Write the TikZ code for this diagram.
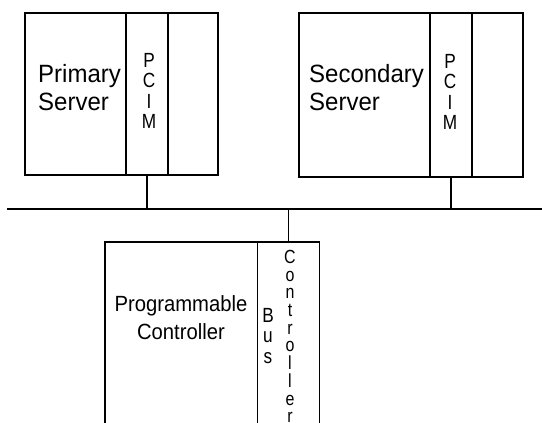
\documentclass[tikz,border=0pt]{standalone}
\usepackage{fontspec}
\setmainfont{Liberation Sans}
\newfontfamily\labfont[FakeStretch=0.96]{Liberation Sans}
\newfontfamily\pcfont[FakeStretch=0.92]{Liberation Sans}
\newfontfamily\colfont[FakeStretch=0.84]{Liberation Sans}
\begin{document}
\begin{tikzpicture}[x=1pt,y=-1pt,
  box/.style={draw=black, line width=1.3pt, rectangle, inner sep=0pt},
  lab/.style={inner sep=0pt, text=black, font=\labfont\fontsize{25}{28}\selectfont},
  pclab/.style={inner sep=0pt, text=black, font=\pcfont\fontsize{22}{28}\selectfont},
  pcimlab/.style={inner sep=0pt, text=black, align=center, anchor=north, font=\colfont\fontsize{20.5}{20.5}\selectfont},
  ctrlab/.style={inner sep=0pt, text=black, align=center, anchor=north, font=\colfont\fontsize{19}{17.7}\selectfont},
  wire/.style={draw=black, line width=1.3pt}]
\useasboundingbox (0,0) rectangle (542,423);
\clip (0,0) rectangle (542,423);
% primary server
\node[box, minimum width=101pt, minimum height=162pt] (prim) at (75.5,94) {};
\node[box, minimum width=42pt, minimum height=162pt] (pcim1) at (147,94) {};
\node[box, minimum width=50pt, minimum height=162pt] (blank1) at (193,94) {};
\node[lab, anchor=north west, align=left] (primlab) at (38,64) {Primary\\Server};
\node[pcimlab] (pcim1lab) at (149,53) {P\\C\\I\\M};
% secondary server
\node[box, minimum width=131pt, minimum height=164pt] (sec) at (364.5,95) {};
\node[box, minimum width=42pt, minimum height=164pt] (pcim2) at (451,95) {};
\node[box, minimum width=51pt, minimum height=164pt] (blank2) at (497.5,95) {};
\node[lab, anchor=north west, align=left] (seclab) at (309,64) {Secondary\\Server};
\node[pcimlab] (pcim2lab) at (450,54) {P\\C\\I\\M};
% bus
\coordinate (busL) at (7,209);
\coordinate (busR) at (542,209);
\draw[wire] (busL) -- (busR);
% programmable controller
\node[box, minimum width=152.5pt, minimum height=200pt] (prog) at (181.25,342) {};
\node[box, minimum width=62pt, minimum height=200pt] (buscol) at (288.5,342) {};
\node[pclab, anchor=north, align=center] (proglab) at (181,295) {Programmable\\Controller};
\node[pcimlab] (buslab) at (268,308) {B\\u\\s};
\node[ctrlab] (ctrllab) at (290,250) {C\\o\\n\\t\\r\\o\\l\\l\\e\\r};
% connectors
\draw[wire] (pcim1.south) -- (pcim1.south |- busL);
\draw[wire] (pcim2.south) -- (pcim2.south |- busL);
\draw[wire] (buscol.north) -- (buscol.north |- busL);
\end{tikzpicture}
\end{document}
